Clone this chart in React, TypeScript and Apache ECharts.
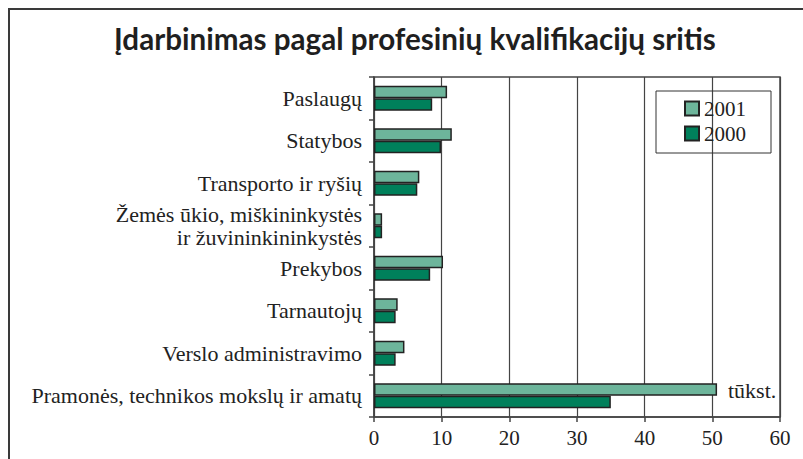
import React, { useEffect, useRef } from "react";
import * as echarts from "echarts";

const categories = [
  "Paslaugų",
  "Statybos",
  "Transporto ir ryšių",
  "Žemės ūkio, miškininkystės\nir žuvininkininkystės",
  "Prekybos",
  "Tarnautojų",
  "Verslo administravimo",
  "Pramonės, technikos mokslų ir amatų",
];
const values2001 = [10.8, 11.5, 6.7, 1.2, 10.2, 3.5, 4.5, 50.7];
const values2000 = [8.6, 9.9, 6.4, 1.2, 8.3, 3.2, 3.2, 35.0];
const xTicks = { min: 0, max: 60, interval: 10 };
const titleText = "Įdarbinimas pagal profesinių kvalifikacijų sritis";
const unitText = "tūkst.";

const SERIF = "Liberation Serif";

export default function App() {
  const ref = useRef<HTMLDivElement>(null);
  useEffect(() => {
    document.body.style.margin = "0";
    if (!ref.current) return;
    const chart = echarts.init(ref.current, undefined, { renderer: "svg" });
    chart.setOption({
      animation: false,
      backgroundColor: "#ffffff",
      title: {
        text: titleText,
        left: 109,
        top: 18,
        textStyle: {
          fontFamily: "Lato",
          fontWeight: "bold",
          fontSize: 29.6,
          color: "#1f1f1f",
        },
      },
      graphic: [
        {
          type: "rect",
          shape: { x: 9, y: 9, width: 820, height: 480 },
          style: { fill: "none", stroke: "#3a3a3a", lineWidth: 2 },
          silent: true,
        },
        {
          type: "text",
          left: 728,
          top: 379,
          style: {
            text: unitText,
            fontFamily: SERIF,
            fontSize: 22,
            fill: "#222",
          },
        },
      ],
      legend: {
        data: ["2001", "2000"],
        orient: "vertical",
        left: 656,
        top: 91,
        padding: [7, 25, 9, 28],
        itemGap: 4,
        itemWidth: 14,
        itemHeight: 14,
        icon: "rect",
        borderColor: "#333",
        borderWidth: 1,
        textStyle: { fontFamily: SERIF, fontSize: 21, color: "#222" },
      },
      grid: {
        left: 374,
        right: 23,
        top: 77,
        bottom: 42,
        show: true,
        borderColor: "#444",
        borderWidth: 1.5,
      },
      xAxis: {
        type: "value",
        min: xTicks.min,
        max: xTicks.max,
        interval: xTicks.interval,
        axisLine: { show: true, lineStyle: { color: "#444", width: 1.5 } },
        axisTick: { show: true, length: 5, lineStyle: { color: "#444", width: 1.5 } },
        splitLine: { show: true, lineStyle: { color: "#444", width: 1.2 } },
        axisLabel: { fontFamily: SERIF, fontSize: 21, color: "#222", margin: 10 },
      },
      yAxis: {
        type: "category",
        data: categories,
        inverse: true,
        axisLine: { show: true, lineStyle: { color: "#444", width: 1.5 } },
        axisTick: { show: true, length: 5, lineStyle: { color: "#444", width: 1.5 } },
        axisLabel: {
          fontFamily: SERIF,
          fontSize: 22,
          color: "#222",
          margin: 12,
          lineHeight: 23,
        },
      },
      series: [
        {
          name: "2001",
          type: "bar",
          data: values2001,
          barGap: "0%",
          barCategoryGap: "41%",
          itemStyle: { color: "#6db59b", borderColor: "#222", borderWidth: 1.5 },
        },
        {
          name: "2000",
          type: "bar",
          data: values2000,
          barGap: "0%",
          barCategoryGap: "41%",
          itemStyle: { color: "#00805b", borderColor: "#222", borderWidth: 1.5 },
        },
      ],
    });
    return () => chart.dispose();
  }, []);
  return <div ref={ref} style={{ width: 803, height: 459 }} />;
}
